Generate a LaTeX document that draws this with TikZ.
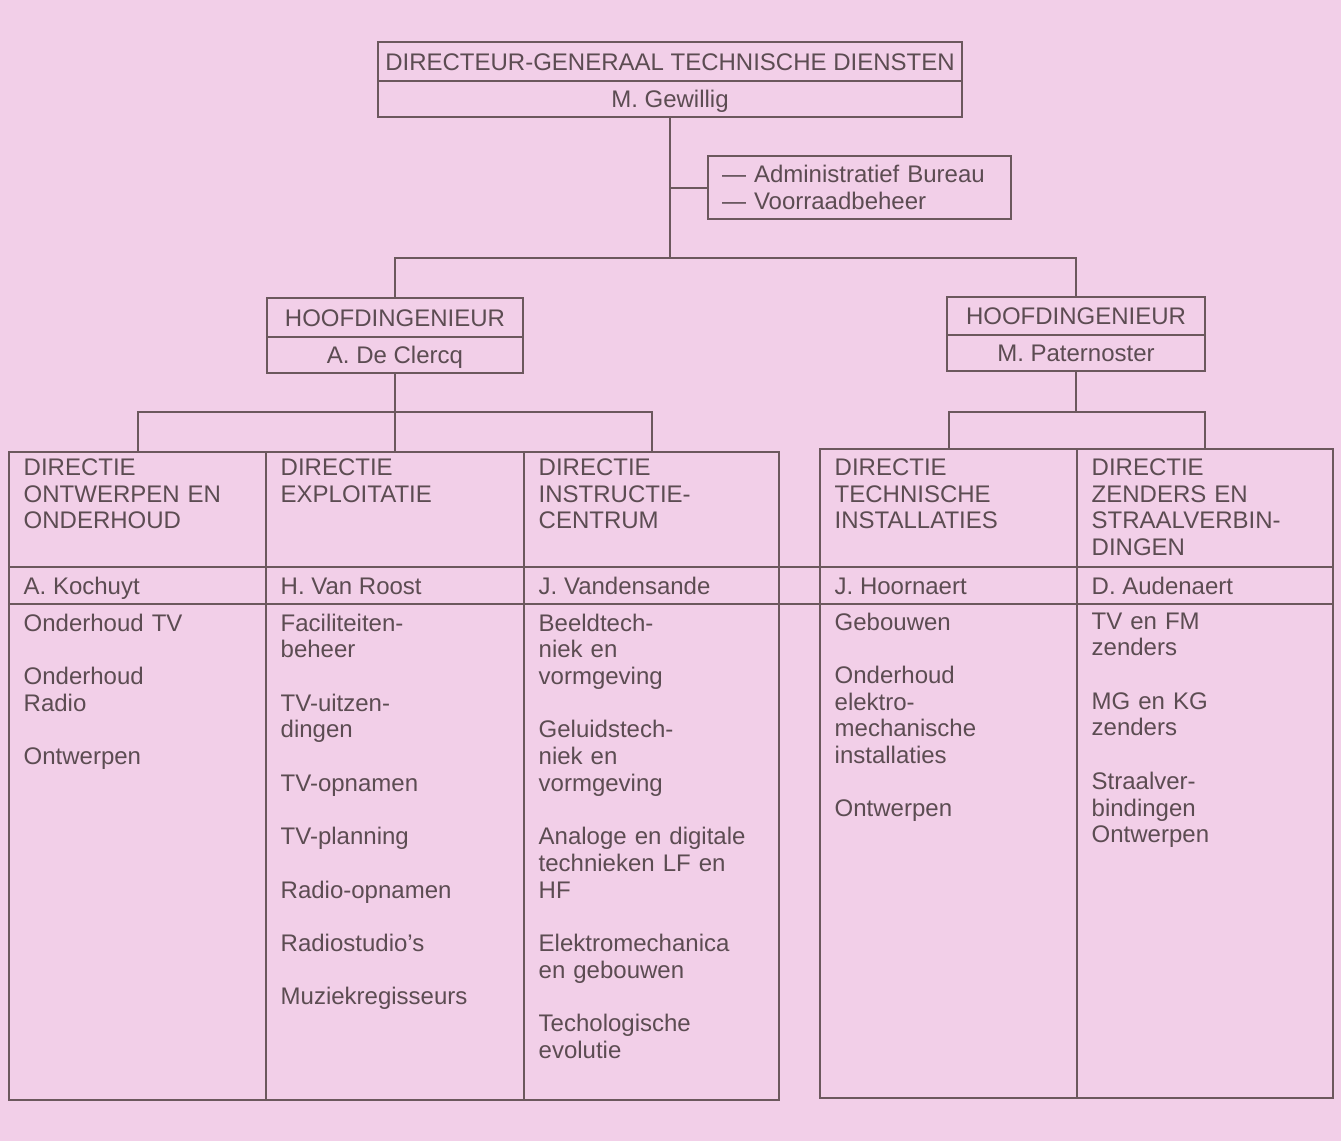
\documentclass[tikz,border=0pt]{standalone}
\usepackage{fontspec}
\setmainfont{Liberation Sans}
\definecolor{bgpink}{RGB}{242,207,232}
\definecolor{ink}{RGB}{108,88,93}
\definecolor{txt}{RGB}{92,76,82}
\tikzset{
  every node/.style={font=\fontsize{24}{26.7}\selectfont, text=txt},
  box/.style={draw=ink, line width=2pt, rectangle, inner sep=0pt, outer sep=0pt,
              text height=17.2pt, text depth=0pt},
  cell/.style={draw=ink, line width=2pt, rectangle, inner sep=0pt, outer sep=0pt, anchor=north west},
  celltext/.style={anchor=north west, inner sep=0pt, text width=240pt, align=left},
  nametext/.style={anchor=west, inner sep=0pt, text height=17.2pt, text depth=0pt},
  conn/.style={draw=ink, line width=2pt}
}
\begin{document}
\begin{tikzpicture}[x=1pt,y=-1pt]
\fill[bgpink] (0,0) rectangle (1341,1141);
\useasboundingbox (0,0) rectangle (1341,1141);

% top box
\node[box, minimum width=584pt, minimum height=39pt] (dg1) at (670,61.5) {DIRECTEUR-GENERAAL TECHNISCHE DIENSTEN};
\node[box, minimum width=584pt, minimum height=36pt] (dg2) at (670,99) {M. Gewillig};

% staff box
\node[draw=ink, line width=2pt, rectangle, inner xsep=14pt, inner ysep=0pt, outer sep=0pt,
      text width=275pt, align=left, minimum height=63pt] (adm) at (859.5,187.5)
      {— Administratief Bureau\\— Voorraadbeheer};

% hoofdingenieurs
\node[box, minimum width=256pt, minimum height=39pt] (hl1) at (395,317.5) {HOOFDINGENIEUR};
\node[box, minimum width=256pt, minimum height=36pt] (hl2) at (395,355) {A. De Clercq};
\node[box, minimum width=258pt, minimum height=38pt] (hr1) at (1076,316) {HOOFDINGENIEUR};
\node[box, minimum width=258pt, minimum height=36pt] (hr2) at (1076,353) {M. Paternoster};

% left table cells
\node[cell, minimum width=257pt, minimum height=115pt] (t1h) at (9,452) {};
\node[cell, minimum width=258pt, minimum height=115pt] (t2h) at (266,452) {};
\node[cell, minimum width=255pt, minimum height=115pt] (t3h) at (524,452) {};
\node[cell, minimum width=257pt, minimum height=37pt] (t1n) at (9,567) {};
\node[cell, minimum width=258pt, minimum height=37pt] (t2n) at (266,567) {};
\node[cell, minimum width=255pt, minimum height=37pt] (t3n) at (524,567) {};
\node[cell, minimum width=257pt, minimum height=496pt] (t1b) at (9,604) {};
\node[cell, minimum width=258pt, minimum height=496pt] (t2b) at (266,604) {};
\node[cell, minimum width=255pt, minimum height=496pt] (t3b) at (524,604) {};

% right table cells
\node[cell, minimum width=257pt, minimum height=118pt] (t4h) at (820,449) {};
\node[cell, minimum width=256pt, minimum height=118pt] (t5h) at (1077,449) {};
\node[cell, minimum width=257pt, minimum height=37pt] (t4n) at (820,567) {};
\node[cell, minimum width=256pt, minimum height=37pt] (t5n) at (1077,567) {};
\node[cell, minimum width=257pt, minimum height=494pt] (t4b) at (820,604) {};
\node[cell, minimum width=256pt, minimum height=494pt] (t5b) at (1077,604) {};

% name row continues across the gap
\draw[conn] (t3n.north east) -- (t4n.north west);
\draw[conn] (t3n.south east) -- (t4n.south west);

% header texts
\node[celltext] (x1h) at ([shift={(14.5,6.4)}]t1h.north west) {DIRECTIE\\ONTWERPEN EN\\ONDERHOUD};
\node[celltext] (x2h) at ([shift={(14.5,6.4)}]t2h.north west) {DIRECTIE\\EXPLOITATIE};
\node[celltext] (x3h) at ([shift={(14.5,6.4)}]t3h.north west) {DIRECTIE\\INSTRUCTIE-\\CENTRUM};
\node[celltext] (x4h) at ([shift={(14.5,9.4)}]t4h.north west) {DIRECTIE\\TECHNISCHE\\INSTALLATIES};
\node[celltext] (x5h) at ([shift={(14.5,9.4)}]t5h.north west) {DIRECTIE\\ZENDERS EN\\STRAALVERBIN-\\DINGEN};

% names
\node[nametext] (x1n) at ([xshift=14.5pt]t1n.west) {A. Kochuyt};
\node[nametext] (x2n) at ([xshift=14.5pt]t2n.west) {H. Van Roost};
\node[nametext] (x3n) at ([xshift=14.5pt]t3n.west) {J. Vandensande};
\node[nametext] (x4n) at ([xshift=14.5pt]t4n.west) {J. Hoornaert};
\node[nametext] (x5n) at ([xshift=14.5pt]t5n.west) {D. Audenaert};

% body texts
\node[celltext] (x1b) at ([shift={(14.5,9.4)}]t1b.north west)
  {Onderhoud TV\\[26.7pt]Onderhoud\\Radio\\[26.7pt]Ontwerpen};
\node[celltext] (x2b) at ([shift={(14.5,9.4)}]t2b.north west)
  {Faciliteiten-\\beheer\\[26.7pt]TV-uitzen-\\dingen\\[26.7pt]TV-opnamen\\[26.7pt]TV-planning\\[26.7pt]Radio-opnamen\\[26.7pt]Radiostudio's\\[26.7pt]Muziekregisseurs};
\node[celltext] (x3b) at ([shift={(14.5,9.4)}]t3b.north west)
  {Beeldtech-\\niek en\\vormgeving\\[26.7pt]Geluidstech-\\niek en\\vormgeving\\[26.7pt]Analoge en digitale\\technieken LF en\\HF\\[26.7pt]Elektromechanica\\en gebouwen\\[26.7pt]Techologische\\evolutie};
\node[celltext] (x4b) at ([shift={(14.5,8.4)}]t4b.north west)
  {Gebouwen\\[26.7pt]Onderhoud\\elektro-\\mechanische\\installaties\\[26.7pt]Ontwerpen};
\node[celltext] (x5b) at ([shift={(14.5,8.4)}]t5b.north west)
  {TV en FM\\zenders\\[26.7pt]MG en KG\\zenders\\[26.7pt]Straalver-\\bindingen\\Ontwerpen};

% connectors
\coordinate (j1) at (670,258);
\draw[conn] (dg2.south) -- (j1);
\draw[conn] (dg2.south |- adm.west) -- (adm.west);
\draw[conn] (hl1.north) |- (j1) -| (hr1.north);

\coordinate (jl) at (395,412);
\draw[conn] (hl2.south) -- (t2h.north);
\draw[conn] (t1h.north) |- (jl) -| (t3h.north);

\coordinate (jr) at (1076,412);
\draw[conn] (hr2.south) -- (jr);
\draw[conn] (t4h.north) |- (jr) -| (t5h.north);
\end{tikzpicture}
\end{document}
